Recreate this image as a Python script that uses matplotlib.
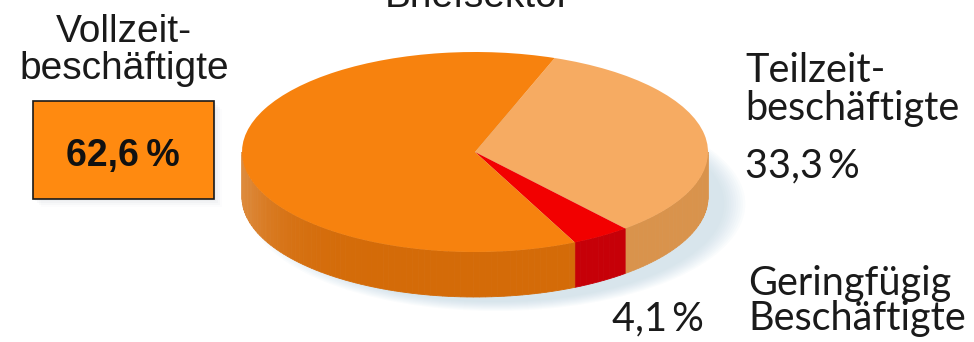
import numpy as np
import matplotlib.pyplot as plt
from matplotlib.patches import Rectangle, Ellipse
from matplotlib.colors import to_rgb

# Anteile der Beschäftigten im Briefsektor (%)
labels = ['Teilzeitbeschäftigte', 'Geringfügig Beschäftigte', 'Vollzeitbeschäftigte']
shares = [33.3, 4.1, 62.6]
share_texts = ['33,3\u2009%', '4,1\u2009%', '62,6\u2009%']

top_colors = ['#f6ab62', '#f20000', '#f7820e']
side_colors = ['#d9934c', '#c60008', '#d46b08']

W, H = 974, 342
fig = plt.figure(figsize=(W / 100, H / 100), dpi=100)
ax = fig.add_axes([0, 0, 1, 1])

# Tortengeometrie in Pixeln: Mittelpunkt, Halbachsen, Dicke
cx, cy = 475, 152
rx, ry = 233, 100
depth = 45 / ry
start = 70


def shade(color, ang):
    # linke Kante etwas heller, Rest im Grundton
    c = np.array(to_rgb(color))
    k = 0.22 * max(0.0, -np.cos(np.radians(ang))) ** 6
    return tuple(c + (1 - c) * k)


# weicher Schatten rechts unter der Torte
for s in np.linspace(1.07, 0.98, 10):
    ax.add_patch(Ellipse((0.09, -depth - 0.07), 2 * s, 2 * s,
                         facecolor='#a9c6db', edgecolor='none', alpha=0.05, zorder=0))

# Seitenwand: nur der vordere Teil (Winkel zwischen -180 und 0 Grad)
total = sum(shares)
cum = 0.0
for val, col in zip(shares, side_colors):
    a0 = start - 360 * (cum + val) / total
    a1 = start - 360 * cum / total
    cum += val
    for k in (-1, 0, 1):
        lo = max(a0, -180 + 360 * k)
        hi = min(a1, 360 * k)
        if hi <= lo:
            continue
        edges = np.linspace(lo, hi, max(2, int((hi - lo) / 1.5) + 1))
        for t0, t1 in zip(edges[:-1], edges[1:]):
            t = np.radians(np.linspace(t0, t1, 4))
            xs = np.concatenate([np.cos(t), np.cos(t[::-1])])
            ys = np.concatenate([np.sin(t), np.sin(t[::-1]) - depth])
            c = shade(col, (t0 + t1) / 2)
            ax.fill(xs, ys, color=c, lw=0.6, zorder=2)

# Deckfläche
ax.pie(shares, colors=top_colors, startangle=start, counterclock=False,
       radius=1, wedgeprops=dict(linewidth=0, zorder=3))

ax.set_aspect('auto')
ax.set_xlim(-cx / rx, (W - cx) / rx)
ax.set_ylim(-(H - cy) / ry, cy / ry)
ax.axis('off')


def label(x, y, s, **kw):
    kw.setdefault('fontsize', 28)
    kw.setdefault('color', '#1a1a1a')
    kw.setdefault('va', 'baseline')
    fig.text(x / W, 1 - y / H, s, **kw)


left_font = ['Liberation Sans', 'DejaVu Sans']
right_font = ['Lato', 'Liberation Sans', 'DejaVu Sans']

# Überschrift (oben angeschnitten)
label(478, 7, 'Briefsektor', ha='center', family=left_font)

# Vollzeit: Beschriftung und Kasten
label(124, 42, 'Vollzeit-', ha='center', family=left_font)
label(124, 79, 'beschäftigte', ha='center', family=left_font)
for i, a in enumerate([0.05, 0.04, 0.03, 0.02]):
    o = 2 + 2 * i
    fig.add_artist(Rectangle(((33 + o) / W, 1 - (199 + o) / H), 181 / W, 98 / H,
                             transform=fig.transFigure, facecolor='#7a8a99',
                             edgecolor='none', alpha=a))
fig.add_artist(Rectangle((33 / W, 1 - 199 / H), 181 / W, 98 / H,
                         transform=fig.transFigure, facecolor='#ff8a10',
                         edgecolor='#1a1a1a', lw=1.2))
label(123, 166, share_texts[2], ha='center', fontsize=27, fontweight='bold',
      family=left_font, color='#111111')

# Teilzeit
label(745, 82, 'Teilzeit-', ha='left', family=right_font, fontsize=28.5)
label(745, 120, 'beschäftigte', ha='left', family=right_font, fontsize=28.5)
label(745, 177, share_texts[0], ha='left', family=right_font, fontsize=28.5)

# Geringfügig Beschäftigte
label(748, 295, 'Geringfügig', ha='left', family=right_font, fontsize=28.5)
label(748, 330, 'Beschäftigte', ha='left', family=right_font, fontsize=28.5)
label(704, 330, share_texts[1], ha='right', family=right_font, fontsize=28.5)

fig.savefig('out.png', dpi=100)
